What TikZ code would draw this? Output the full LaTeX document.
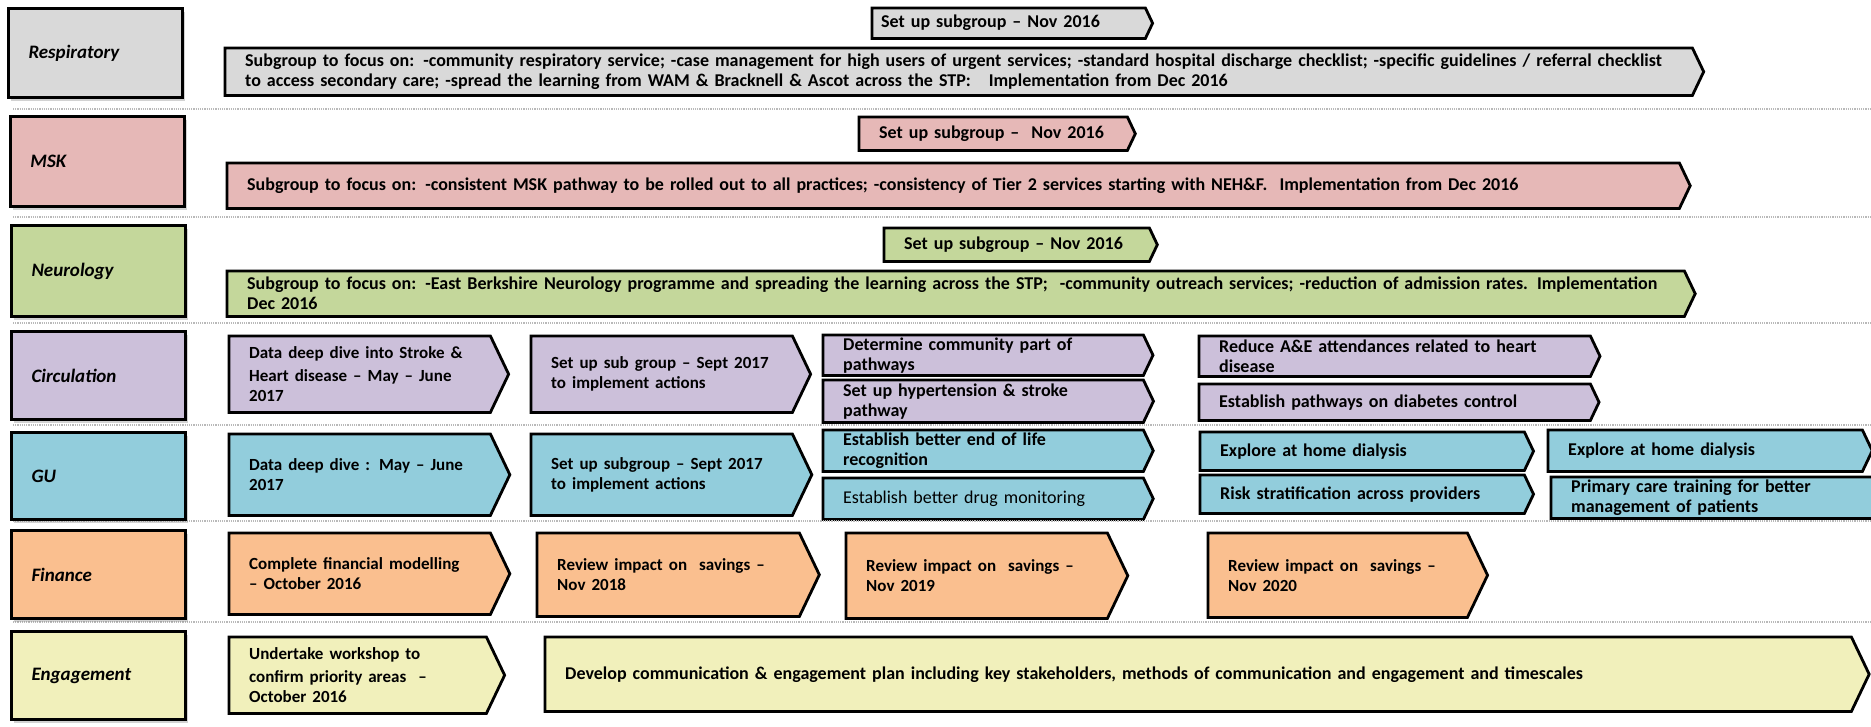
\documentclass[tikz,border=0pt]{standalone}
\usepackage{fontspec}
\setmainfont{Carlito}
\usetikzlibrary{backgrounds}
\usetikzlibrary{shadows}

\definecolor{resp}{HTML}{D9D9D9}
\definecolor{msk}{HTML}{E6B8B7}
\definecolor{neuro}{HTML}{C4D79B}
\definecolor{circ}{HTML}{CCC0DA}
\definecolor{gu}{HTML}{92CDDC}
\definecolor{fin}{HTML}{FABF8F}
\definecolor{engage}{HTML}{F1F0BB}

% chevron: [inset]{name}{x}{y}{width}{height}{colour}{text}
\newcommand{\stagebox}[8][20]{%
	\pgfmathsetmacro{\tw}{#5-2*#1}%
	\node[stage, inner xsep=#1pt, minimum width=#5pt, minimum height=#6pt, text width=\tw pt] (#2) at (#3,#4) {#8};
	\begin{pgfonlayer}{background}
		\draw[stageline, fill=#7] (#2.north west) -- (#2.north east) -- ([xshift={0.24*#6}]#2.east) -- (#2.south east) -- (#2.south west) -- cycle;
	\end{pgfonlayer}%
}
\newcommand{\tall}{\fontsize{17}{23}\selectfont}

\begin{document}
\begin{tikzpicture}[x=1pt,y=-1pt]
					
					\begin{pgfonlayer}{background}
					\fill[white] (0,0) rectangle (1871,726);
					\end{pgfonlayer}
					\useasboundingbox (0,0) rectangle (1871,726);
					
					\tikzstyle{names}=[rectangle,draw=black,line width=3pt,anchor=north west,minimum width=174pt,inner xsep=20pt,text width=134pt,align=left,font=\bfseries\itshape\fontsize{19}{20}\selectfont,drop shadow={shadow xshift=2pt,shadow yshift=-3pt,opacity=0.35}]
					\tikzstyle{stage}=[rectangle,anchor=north west,inner ysep=0pt,align=left,font=\bfseries\fontsize{18}{20}\selectfont]
					\tikzstyle{stageline}=[draw=black,line width=2.8pt]
					\tikzstyle{sepline}=[gray!55,line width=1.2pt,densely dotted]
					
					%Row separators
					\foreach \y in {109,217,323,425,521,622}
					\draw[sepline] (13,\y) -- (1871,\y);
					
					%Label boxes
					\foreach \name/\x/\y/\h/\col in {Respiratory/7/7/89/resp, MSK/9/115/90/msk, Neurology/10/224/91/neuro, Circulation/10/330/88/circ, GU/10/431/87/gu, Finance/10/529/88/fin, Engagement/10/630/88/engage}
					\node[names,fill=\col,minimum height=\h pt] (L-\name) at (\x,\y) {\name};
					
					%Respiratory Row
					\stagebox[9]{resp-a}{872}{8}{273}{30}{resp}{Set up subgroup – Nov 2016}
					\stagebox{resp-b}{225}{48}{1467}{47}{resp}{\fontsize{18}{22}\selectfont Subgroup to focus on: -community respiratory service; -case management for high users of urgent services; -standard hospital discharge checklist; -specific guidelines / referral checklist\\to access secondary care; -spread the learning from WAM \& Bracknell \& Ascot across the STP:~~ Implementation from Dec 2016}
					
					%MSK Row
					\stagebox{msk-a}{859}{117}{268}{33}{msk}{Set up subgroup –~ Nov 2016}
					\stagebox{msk-b}{227}{163}{1452}{45}{msk}{Subgroup to focus on: -consistent MSK pathway to be rolled out to all practices; -consistency of Tier 2 services starting with NEH\&F.~ Implementation from Dec 2016}
					
					%Neurology Row
					\stagebox{neuro-a}{884}{228}{265}{33}{neuro}{Set up subgroup – Nov 2016}
					\stagebox{neuro-b}{227}{271}{1457}{45}{neuro}{\fontsize{18}{21}\selectfont Subgroup to focus on: -East Berkshire Neurology programme and spreading the learning across the STP;~ -community outreach services; -reduction of admission rates. Implementation\\Dec 2016}
					
					%Circulation Row
					\stagebox{circ-a}{229}{336}{261}{76}{circ}{\tall Data deep dive into Stroke \&\\Heart disease – May – June\\2017}
					\stagebox{circ-b}{531}{336}{261}{76}{circ}{\tall Set up sub group – Sept 2017\\to implement actions}
					\stagebox{circ-c}{823}{335}{320}{40}{circ}{Determine community part of\\pathways}
					\stagebox{circ-d}{823}{380}{320}{42}{circ}{Set up hypertension \& stroke\\pathway}
					\stagebox{circ-e}{1199}{336}{391}{40}{circ}{Reduce A\&E attendances related to heart\\disease}
					\stagebox{circ-f}{1199}{384}{391}{36}{circ}{Establish pathways on diabetes control}
					
					%GU Row
					\stagebox{gu-a}{229}{434}{261}{81}{gu}{\tall Data deep dive : May – June\\2017}
					\stagebox{gu-b}{531}{434}{261}{81}{gu}{\tall Set up subgroup – Sept 2017\\to implement actions}
					\stagebox{gu-c}{823}{430}{320}{41}{gu}{Establish better end of life\\recognition}
					\stagebox{gu-d}{823}{478}{320}{41}{gu}{\mdseries Establish better drug monitoring}
					\stagebox{gu-e}{1200}{432}{324}{38}{gu}{Explore at home dialysis}
					\stagebox{gu-f}{1200}{475}{324}{38}{gu}{Risk stratification across providers}
					\stagebox{gu-g}{1548}{430}{314}{41}{gu}{Explore at home dialysis}
					\stagebox{gu-h}{1551}{477}{330}{41}{gu}{Primary care training for better\\management of patients}
					
					%Finance Row
					\stagebox{fin-a}{229}{533}{261}{81}{fin}{\tall Complete financial modelling\\– October 2016}
					\stagebox{fin-b}{537}{533}{262}{83}{fin}{\tall Review impact on~ savings –\\Nov 2018}
					\stagebox{fin-c}{846}{533}{261}{85}{fin}{\tall Review impact on~ savings –\\Nov 2019}
					\stagebox{fin-d}{1208}{533}{259}{84}{fin}{\tall Review impact on~ savings –\\Nov 2020}
					
					%Engagement Row
					\stagebox{eng-a}{229}{637}{257}{76}{engage}{\tall Undertake workshop to\\confirm priority areas~ –\\October 2016}
					\stagebox{eng-b}{545}{637}{1306}{74}{engage}{Develop communication \& engagement plan including key stakeholders, methods of communication and engagement and timescales}
					
\end{tikzpicture}
\end{document}
